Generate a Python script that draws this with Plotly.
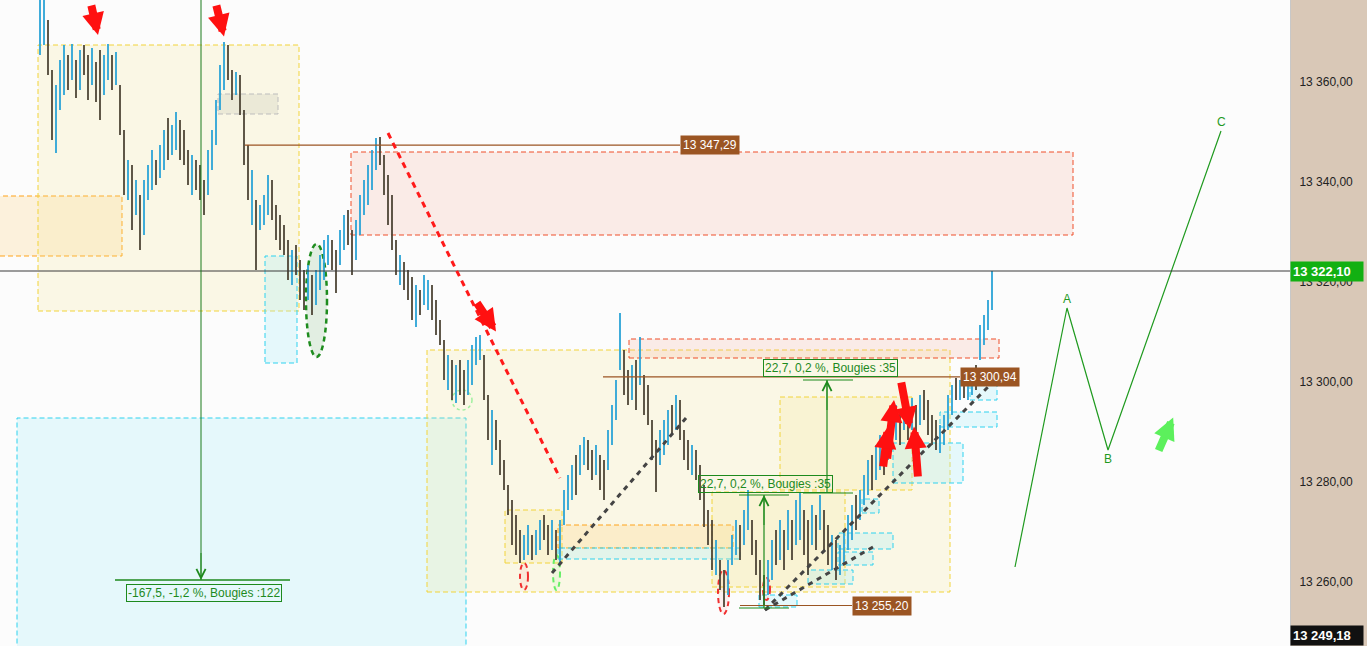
import plotly.graph_objects as go

# ---------------------------------------------------------------------------
# Price bars (one per bougie)
# ---------------------------------------------------------------------------
HI = [
    13379.3, 13378.3, 13372.3, 13362.3, 13359.3, 13364.3, 13367.3, 13365.3, 13367.5, 13364.3,
    13366.3, 13367.3, 13365.3, 13366.7, 13363.9, 13366.3, 13365.3, 13367.5, 13365.3, 13365.9,
    13359.3, 13350.3, 13344.3, 13343.3, 13340.3, 13337.3, 13340.3, 13343.3, 13346.3, 13344.3,
    13347.3, 13350.3, 13352.7, 13351.3, 13353.9, 13352.3, 13350.3, 13346.3, 13345.3, 13344.3,
    13343.3, 13340.3, 13346.3, 13350.3, 13356.3, 13363.3, 13367.9, 13367.3, 13362.3, 13361.9,
    13361.3, 13354.3, 13347.3, 13342.3, 13336.3, 13335.3, 13337.3, 13341.3, 13340.3, 13335.3,
    13333.3, 13331.3, 13328.3, 13326.3, 13327.3, 13324.3, 13322.3, 13323.3, 13321.3, 13322.3,
    13325.3, 13328.3, 13329.3, 13328.3, 13326.3, 13330.3, 13333.3, 13334.3, 13330.3, 13332.3,
    13337.3, 13340.3, 13343.3, 13346.3, 13348.7, 13348.9, 13345.3, 13341.3, 13337.3, 13328.3,
    13325.3, 13323.9, 13322.3, 13320.9, 13319.3, 13318.3, 13321.3, 13320.3, 13319.3, 13316.3,
    13312.3, 13308.3, 13305.3, 13304.3, 13303.3, 13304.3, 13302.3, 13304.3, 13307.3, 13308.9,
    13309.3, 13305.3, 13297.3, 13294.3, 13292.3, 13288.3, 13284.3, 13279.3, 13276.3, 13273.3,
    13270.3, 13269.3, 13271.3, 13269.3, 13270.3, 13272.3, 13273.3, 13271.3, 13272.3, 13270.3,
    13272.3, 13278.3, 13281.3, 13283.3, 13285.3, 13287.3, 13288.9, 13288.3, 13286.3, 13287.3,
    13285.3, 13284.3, 13290.3, 13295.3, 13300.3, 13313.7, 13306.3, 13302.3, 13303.3, 13304.3,
    13308.9, 13301.3, 13299.3, 13292.3, 13288.3, 13290.3, 13292.3, 13294.3, 13295.3, 13297.3,
    13296.3, 13290.3, 13288.3, 13287.3, 13286.3, 13283.3, 13279.3, 13274.3, 13272.3, 13268.3,
    13264.3, 13262.3, 13264.3, 13269.3, 13272.3, 13271.3, 13274.3, 13278.3, 13272.3, 13268.3,
    13264.3, 13261.3, 13264.3, 13268.3, 13270.3, 13272.3, 13270.3, 13274.3, 13272.3, 13276.3,
    13277.7, 13274.3, 13272.3, 13275.3, 13273.3, 13277.3, 13274.3, 13271.3, 13269.3, 13268.3,
    13267.3, 13270.3, 13273.3, 13275.3, 13277.3, 13278.3, 13281.3, 13284.3, 13285.3, 13287.3,
    13289.3, 13288.3, 13291.3, 13293.3, 13295.3, 13294.3, 13296.3, 13294.3, 13296.7, 13295.3,
    13297.3, 13298.3, 13296.3, 13293.3, 13292.3, 13291.3, 13293.3, 13297.3, 13299.3, 13300.7,
    13300.3, 13300.9, 13300.3, 13301.3, 13303.3, 13311.3, 13313.3, 13316.3, 13322.1,
]
LO = [
    13365.3, 13367.3, 13361.3, 13348.3, 13345.7, 13354.3, 13357.3, 13358.3, 13360.3, 13356.7,
    13358.3, 13361.3, 13356.3, 13359.3, 13355.9, 13352.3, 13357.3, 13360.3, 13358.3, 13359.3,
    13349.3, 13337.3, 13336.3, 13330.3, 13333.3, 13326.3, 13329.3, 13336.3, 13338.3, 13339.3,
    13340.7, 13342.3, 13344.3, 13345.3, 13346.3, 13344.3, 13343.3, 13339.3, 13337.3, 13338.3,
    13336.3, 13333.3, 13337.3, 13342.3, 13347.3, 13354.3, 13358.3, 13360.3, 13356.3, 13357.3,
    13353.3, 13343.3, 13336.3, 13331.3, 13322.3, 13330.3, 13331.3, 13333.3, 13332.3, 13328.3,
    13326.3, 13325.3, 13320.3, 13319.3, 13321.3, 13316.3, 13314.3, 13316.3, 13313.3, 13315.3,
    13318.3, 13320.3, 13323.3, 13322.3, 13317.7, 13323.3, 13326.3, 13327.3, 13321.3, 13324.3,
    13329.3, 13333.3, 13335.3, 13338.3, 13342.3, 13343.3, 13337.3, 13331.3, 13326.3, 13321.3,
    13319.3, 13318.3, 13316.3, 13312.3, 13310.9, 13313.3, 13315.3, 13314.3, 13312.3, 13309.3,
    13307.3, 13300.3, 13298.3, 13296.3, 13295.7, 13297.3, 13295.3, 13297.3, 13299.3, 13303.3,
    13304.3, 13296.3, 13288.3, 13283.3, 13286.3, 13281.3, 13278.3, 13273.3, 13267.3, 13265.3,
    13263.7, 13264.3, 13265.3, 13264.3, 13265.3, 13266.3, 13268.3, 13265.3, 13266.3, 13264.3,
    13263.3, 13271.3, 13274.3, 13276.3, 13277.3, 13281.3, 13283.3, 13282.3, 13280.3, 13281.3,
    13278.3, 13276.3, 13282.3, 13287.3, 13292.3, 13302.3, 13297.3, 13295.3, 13296.3, 13294.3,
    13299.3, 13293.3, 13291.3, 13284.3, 13277.9, 13283.3, 13285.3, 13287.3, 13289.3, 13290.3,
    13288.3, 13284.3, 13282.3, 13281.3, 13280.3, 13276.3, 13270.9, 13267.3, 13262.3, 13261.3,
    13258.3, 13254.9, 13257.3, 13263.3, 13265.3, 13264.3, 13267.3, 13270.3, 13265.3, 13261.3,
    13256.3, 13255.2, 13257.3, 13260.3, 13263.3, 13264.3, 13262.3, 13266.3, 13264.3, 13267.3,
    13268.3, 13265.3, 13261.3, 13267.3, 13266.3, 13270.3, 13266.3, 13263.3, 13262.3, 13260.3,
    13261.3, 13263.3, 13266.3, 13268.3, 13270.3, 13272.3, 13275.3, 13277.3, 13278.3, 13280.3,
    13282.3, 13281.3, 13284.3, 13286.3, 13288.3, 13287.3, 13290.3, 13288.3, 13290.3, 13289.3,
    13291.3, 13292.3, 13289.3, 13287.3, 13286.3, 13285.7, 13287.3, 13290.3, 13293.3, 13296.3,
    13296.3, 13296.7, 13296.3, 13297.3, 13298.3, 13304.3, 13307.3, 13310.3, 13314.3,
]
# u = hausse (blue), d = baisse (dark)
DIRS = (
    "uudduuudududdudduudu" "ddududuuuduuduudddud" "dduuuuudduddduduuudd"
    "dddudddudu" "uuudduuddu" "uuuuuddddd" "uddduduudd" "ddududduuu"
    "uddudddddd" "duuduuddud" "uuuuduuddu" "dduuuuddud" "udddduuudu"
    "dddudddddu" "dduuuduudd" "dduudududu" "uddududdud" "uuuuduuudu"
    "uduuududud" "udddduuuud" "uduuduuuu"
)

# y axis
Y_TICKS = [13260, 13280, 13300, 13320, 13340, 13360]
LAST_PRICE = 13322.10
LOW_PRICE = 13249.18

# marked levels
LEVELS = [13347.29, 13300.94, 13255.20]

# projection A-B-C
PROJ_X = [243.75, 256.75, 267.0, 295.25]
PROJ_Y = [13262.9, 13314.7, 13286.3, 13350.1]
PROJ_LABELS = ["", "A", "B", "C"]

# measurements
MEASURES = ["-167,5, -1,2 %, Bougies :122", "22,7, 0,2 %, Bougies :35", "22,7, 0,2 %, Bougies :35"]


def fr(v):
    return f"{v:,.2f}".replace(",", " ").replace(".", ",")


UP = "#2ba3d6"
DOWN = "#4d4536"
GREEN = "#1d8a1d"
BROWN = "#9b5523"
YEL_FILL = "rgba(245,232,140,0.2)"
YEL_LINE = "#f2d43a"
CYAN_FILL = "rgba(170,238,248,0.28)"
CYAN_LINE = "#2fd2ef"
PINK_FILL = "rgba(245,170,150,0.2)"
PINK_LINE = "#ef4f2a"
ORA_FILL = "rgba(255,205,110,0.22)"
ORA_LINE = "#ffa31a"


def seg(direction):
    xs, ys = [], []
    for i, d in enumerate(DIRS):
        if d == direction:
            xs += [i, i, None]
            ys += [LO[i], HI[i], None]
    return xs, ys


fig = go.Figure()

for d, col in (("u", UP), ("d", DOWN)):
    xs, ys = seg(d)
    fig.add_trace(go.Scatter(x=xs, y=ys, mode="lines", line=dict(color=col, width=1.8),
                             hoverinfo="skip", showlegend=False))

fig.add_trace(go.Scatter(x=PROJ_X, y=PROJ_Y, mode="lines", line=dict(color="#1f9a1f", width=1.2),
                         hoverinfo="skip", showlegend=False))

shapes = []


def rect(x0, x1, y0, y1, fill, line, width=1, dash="5px,3px", layer="below"):
    shapes.append(dict(type="rect", x0=x0, x1=x1, y0=y0, y1=y1, fillcolor=fill,
                       line=dict(color=line, width=width, dash=dash), layer=layer))


def oval(x0, x1, y0, y1, fill, line, width=2, dash="5px,4px"):
    shapes.append(dict(type="circle", x0=x0, x1=x1, y0=y0, y1=y1, fillcolor=fill,
                       line=dict(color=line, width=width, dash=dash), layer="below"))


def seg_line(x0, y0, x1, y1, color, width=1, dash="solid", layer="above"):
    shapes.append(dict(type="line", x0=x0, y0=y0, x1=x1, y1=y1,
                       line=dict(color=color, width=width, dash=dash), layer=layer))


# zones
rect(-12, 20.5, 13325.1, 13337.1, ORA_FILL, ORA_LINE)
rect(-0.5, 64.75, 13314.1, 13367.3, YEL_FILL, YEL_LINE)
rect(44.5, 59.5, 13353.5, 13357.5, "rgba(190,190,175,0.25)", "#bdbdbd")
rect(56.25, 64.25, 13303.7, 13325.1, CYAN_FILL, CYAN_LINE)
rect(77.75, 258.25, 13329.3, 13345.9, PINK_FILL, PINK_LINE)
rect(-5.75, 106.5, 13230, 13292.7, CYAN_FILL, CYAN_LINE)
rect(96.75, 227.5, 13257.9, 13306.3, YEL_FILL, YEL_LINE)
rect(116.25, 130.5, 13263.7, 13274.3, YEL_FILL, YEL_LINE)
rect(129.5, 173.25, 13266.7, 13271.3, ORA_FILL, ORA_LINE)
rect(129.5, 175.0, 13264.5, 13266.7, CYAN_FILL, CYAN_LINE)
rect(147.25, 239.75, 13304.7, 13308.5, PINK_FILL, PINK_LINE)
rect(185.0, 218.0, 13278.3, 13296.9, YEL_FILL, YEL_LINE)
rect(168.0, 201.25, 13258.9, 13277.9, YEL_FILL, YEL_LINE)
rect(199.5, 213.25, 13266.5, 13269.7, CYAN_FILL, CYAN_LINE)
rect(199.5, 208.25, 13263.3, 13265.9, CYAN_FILL, CYAN_LINE)
rect(192.0, 203.25, 13259.5, 13262.3, CYAN_FILL, CYAN_LINE)
rect(205.5, 209.75, 13273.7, 13276.5, CYAN_FILL, CYAN_LINE)
rect(213.25, 230.75, 13279.7, 13287.7, CYAN_FILL, CYAN_LINE)
rect(225.0, 239.25, 13290.9, 13293.9, CYAN_FILL, CYAN_LINE)
rect(232.5, 239.25, 13296.3, 13299.7, CYAN_FILL, CYAN_LINE)
rect(179.75, 189.25, 13254.9, 13257.3, CYAN_FILL, CYAN_LINE)

# ellipses
oval(66.5, 71.75, 13304.9, 13327.5, "rgba(40,140,40,0.12)", "#1e8c1e", width=2.5)
oval(103, 108, 13294.3, 13298.3, "rgba(0,0,0,0)", "#9ef09e", width=1.5, dash="dot")
oval(120, 122, 13258.3, 13263.7, "rgba(255,80,80,0.08)", "#f03030", width=2)
oval(128.25, 130, 13258.3, 13265.3, "rgba(100,240,100,0.08)", "#66ee66", width=2)
oval(169.5, 172.25, 13253.5, 13262.3, "rgba(255,80,80,0.08)", "#f03030", width=2)
oval(180.75, 182.5, 13256.3, 13260.7, "rgba(255,80,80,0.08)", "#f03030", width=2)

# last price line
shapes.append(dict(type="line", xref="paper", x0=0, x1=1, y0=LAST_PRICE, y1=LAST_PRICE,
                   line=dict(color="#3a3a3a", width=1)))

# levels
for (x0, x1), lv in zip([(51.25, 160), (140.75, 230), (175, 203)], LEVELS):
    seg_line(x0, lv, x1, lv, BROWN, 1.2)

# trend lines
seg_line(87, 13349.7, 130, 13280.7, "#ff1a1a", 3, "6px,5px")
seg_line(128, 13261.7, 161.5, 13292.7, "#444444", 3, "5px,5px")
seg_line(181.25, 13254.3, 238.75, 13300.3, "#444444", 3, "5px,5px")
seg_line(181.25, 13254.3, 208.25, 13266.9, "#444444", 3, "5px,5px")

# measurement lines
seg_line(40.25, 13260.3, 40.25, 13390, "#1a7a1a", 1)
seg_line(18.75, 13260.3, 62.5, 13260.3, GREEN, 1.3)
seg_line(181, 13254.7, 181, 13277.3, GREEN, 1.2)
seg_line(174.75, 13277.3, 187.25, 13277.3, GREEN, 1.2)
seg_line(174.75, 13254.7, 187.25, 13254.7, GREEN, 1.2)
seg_line(196.75, 13277.7, 196.75, 13300.3, GREEN, 1.2)
seg_line(190.75, 13300.3, 203.25, 13300.3, GREEN, 1.2)
seg_line(190.75, 13277.7, 203.25, 13277.7, GREEN, 1.2)

annotations = []

# price tags
for x, lv in zip([160, 230, 203], LEVELS):
    annotations.append(dict(x=x, y=lv, xanchor="left", yanchor="middle", text=fr(lv),
                            showarrow=False, bgcolor=BROWN, borderpad=2,
                            font=dict(color="white", size=12)))

# measurement boxes
for (x, y), txt in zip([(40.9, 13257.7), (181.4, 13279.5), (197.5, 13302.7)], MEASURES):
    annotations.append(dict(x=x, y=y, text=txt, showarrow=False, xanchor="center", yanchor="middle",
                            bordercolor=GREEN, borderwidth=1, borderpad=1,
                            font=dict(color=GREEN, size=12)))

# measurement arrow heads
for (x, y, ay) in [(40.25, 13260.3, 13266), (181, 13277.3, 13271), (196.75, 13300.3, 13294)]:
    annotations.append(dict(x=x, y=y, ax=x, ay=ay, axref="x", ayref="y", text="",
                            showarrow=True, arrowhead=5, arrowsize=1.8, arrowwidth=1,
                            arrowcolor=GREEN, standoff=0))

# A B C
for x, y, t in zip(PROJ_X, PROJ_Y, PROJ_LABELS):
    if t:
        annotations.append(dict(x=x, y=y, text=t, showarrow=False,
                                yanchor="bottom" if t != "B" else "top",
                                font=dict(color="#1f9a1f", size=12)))

# big arrows
for (tx, ty, hx, hy, col) in [
    (12.75, 13375.5, 14.5, 13369.3, "#ff1010"),
    (44.0, 13375.5, 46.0, 13369.0, "#ff1010"),
    (109.0, 13316.0, 114.0, 13310.0, "#ff1010"),
    (211.75, 13284.3, 213.5, 13296.3, "#ff1010"),
    (210.75, 13282.7, 212.0, 13291.0, "#ff1010"),
    (215.25, 13300.1, 217.5, 13290.5, "#ff1010"),
    (219.5, 13280.7, 218.5, 13291.0, "#ff1010"),
    (279.5, 13285.9, 283.3, 13292.8, "#5cf05c"),
]:
    annotations.append(dict(x=hx, y=hy, ax=tx, ay=ty, axref="x", ayref="y", text="",
                            showarrow=True, arrowhead=2, arrowsize=0.55, arrowwidth=8,
                            arrowcolor=col, standoff=0))

# right-axis badges
annotations.append(dict(xref="paper", x=1.0, y=LAST_PRICE, xanchor="left", yanchor="middle",
                        text="<b>" + fr(LAST_PRICE) + "</b>", showarrow=False, bgcolor="#12b012",
                        width=68, align="left", borderpad=2, font=dict(color="white", size=13)))
annotations.append(dict(xref="paper", x=1.0, y=LOW_PRICE, xanchor="left", yanchor="middle",
                        text="<b>" + fr(LOW_PRICE) + "</b>", showarrow=False, bgcolor="#111111",
                        width=68, align="left", borderpad=2, font=dict(color="white", size=13)))

fig.update_layout(
    width=1367, height=646, autosize=False,
    margin=dict(l=0, r=77, t=0, b=0),
    paper_bgcolor="#d9c8b7",
    plot_bgcolor="#fcfcfc",
    font=dict(family="Liberation Sans, Arial, sans-serif", size=12, color="#222"),
    showlegend=False,
    xaxis=dict(range=[-10, 312.5], visible=False, fixedrange=True),
    yaxis=dict(range=[13247.1, 13376.3], side="right", tickvals=Y_TICKS,
               ticktext=[fr(v) for v in Y_TICKS], showgrid=False, zeroline=False,
               ticks="", ticklabelstandoff=6, showline=True, linecolor="#c8c8c8",
               tickfont=dict(size=12, color="#222")),
    shapes=shapes,
    annotations=annotations,
)

fig.write_html("out.html", config=dict(displayModeBar=False),
               post_script="document.body.style.margin='0';document.body.style.overflow='hidden';")
